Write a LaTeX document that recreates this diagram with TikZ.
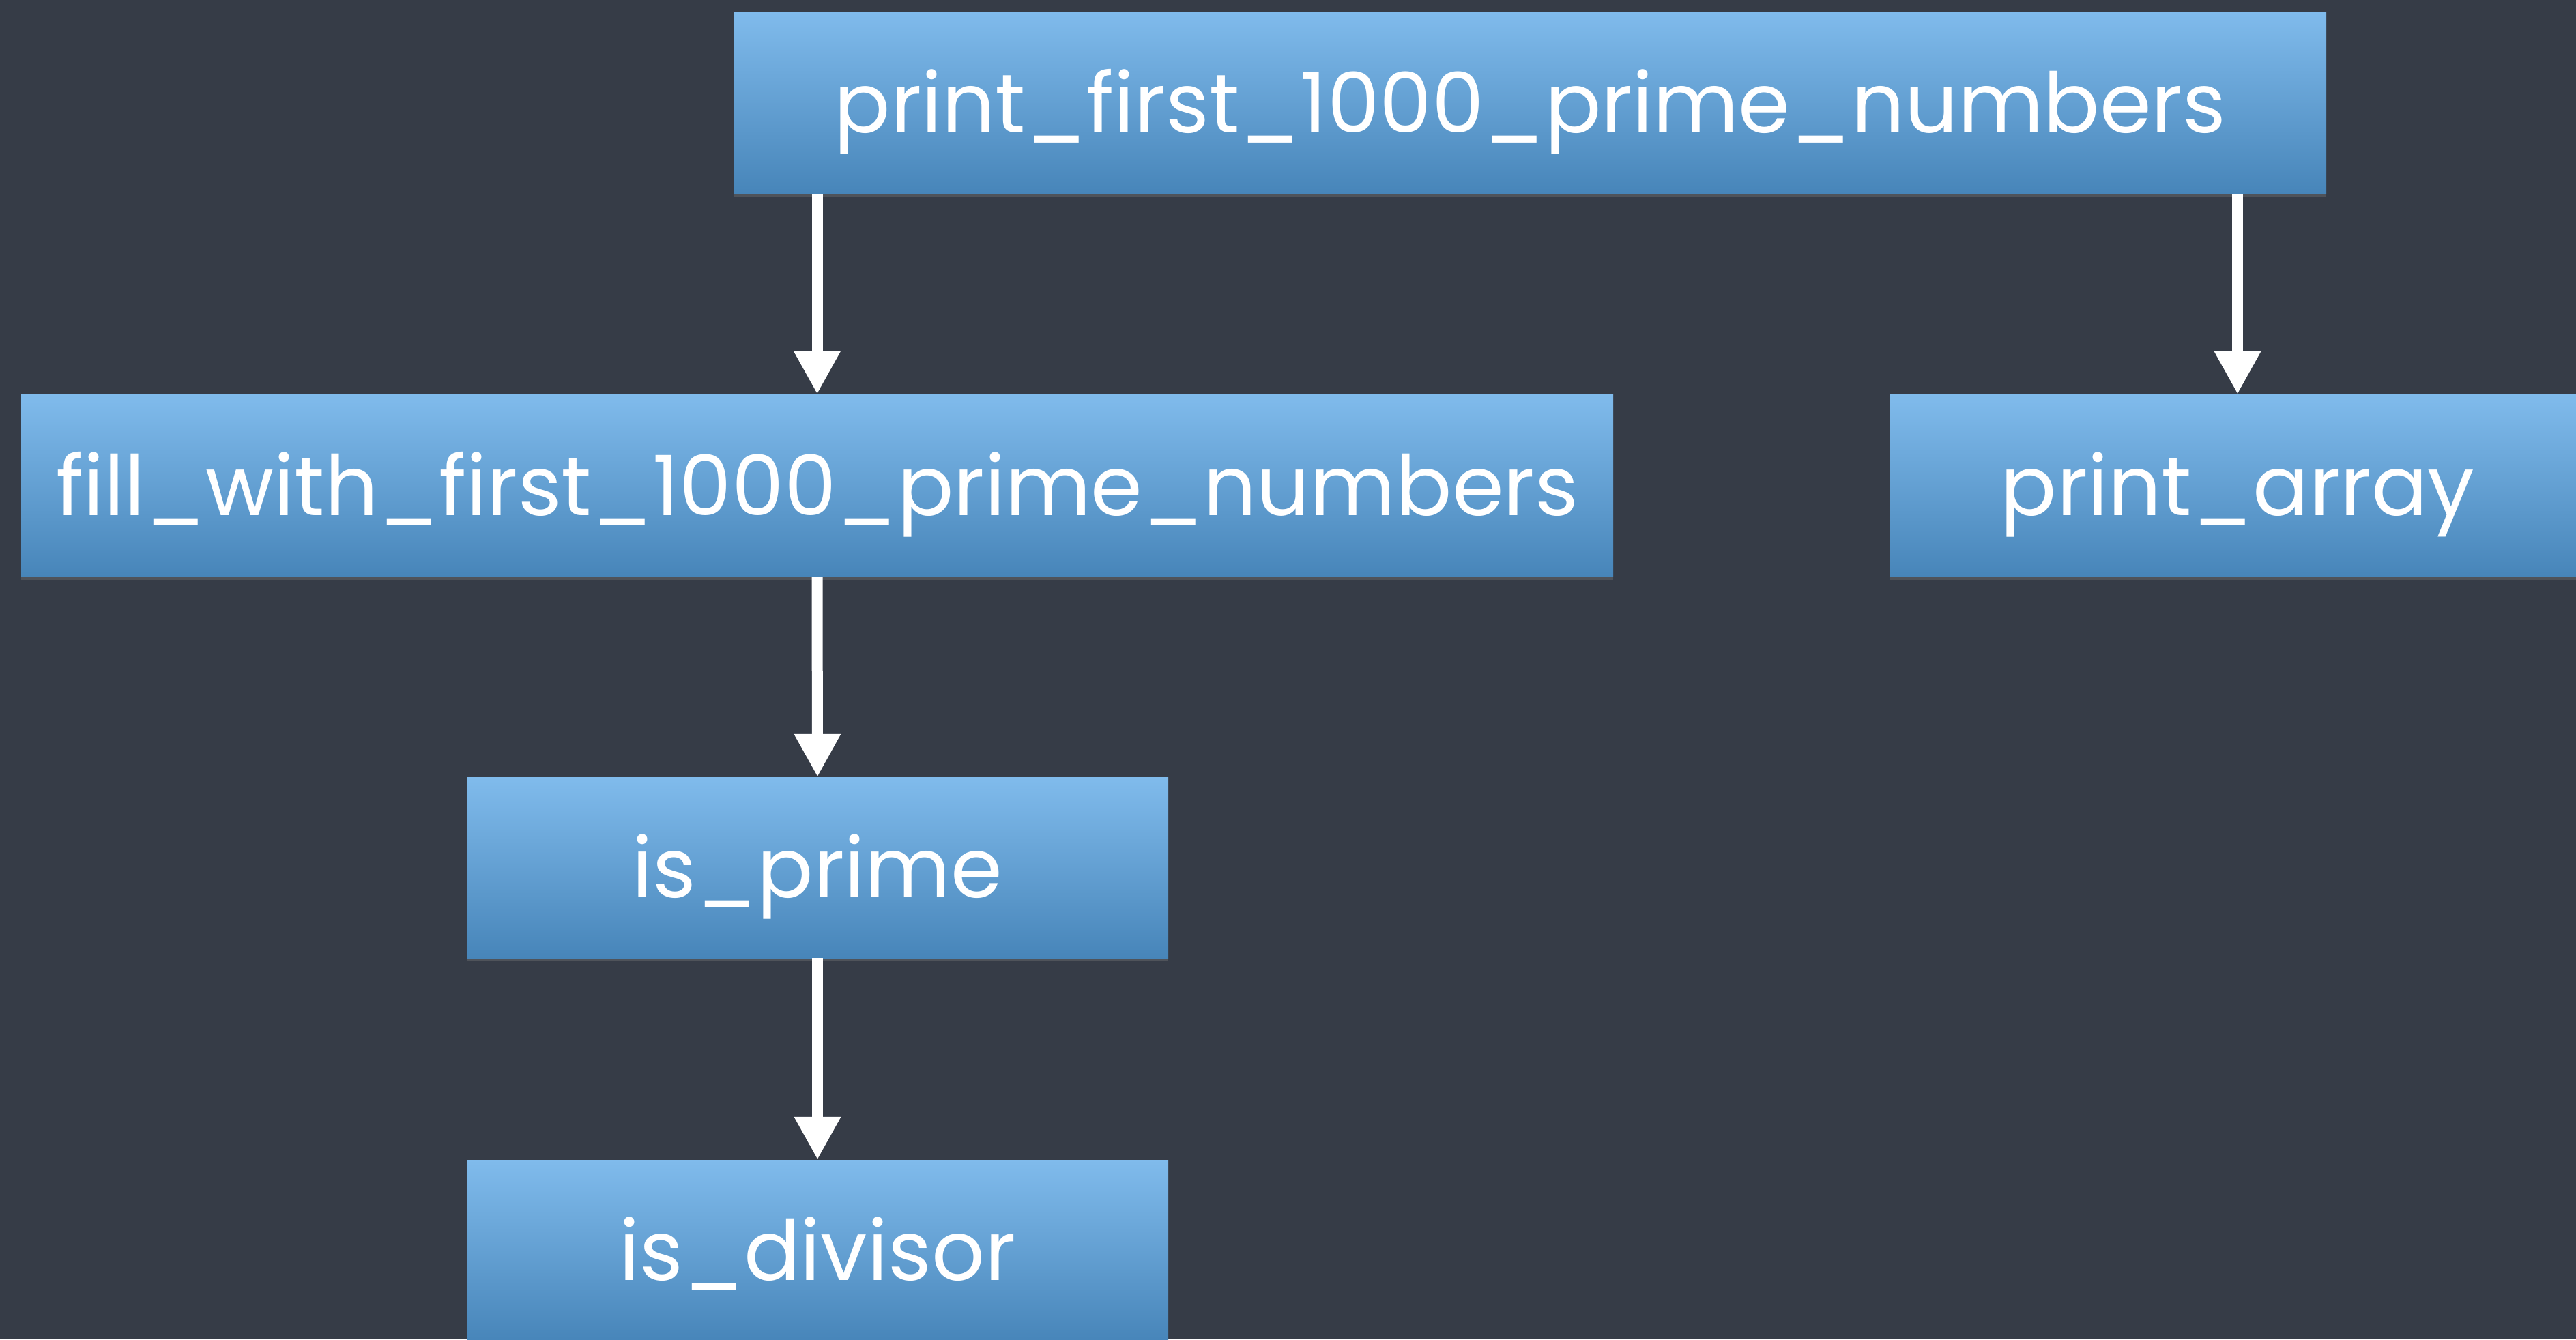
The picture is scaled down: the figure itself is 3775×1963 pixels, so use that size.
\documentclass[tikz,border=0pt]{standalone}
\usepackage{fontspec}
\setmainfont{Poppins}
\usetikzlibrary{arrows.meta,shadows}
\definecolor{bg}{HTML}{363C47}
\definecolor{boxtop}{HTML}{80BBEC}
\definecolor{boxbot}{HTML}{4785B9}
\begin{document}
\begin{tikzpicture}[x=1pt,y=-1pt,
  fnbox/.style={rectangle, inner sep=0pt, top color=boxtop, bottom color=boxbot,
    draw=none, text=white, font=\fontsize{122}{140}\selectfont,
    text height=87pt, text depth=0pt,
    drop shadow={opacity=0.35, shadow xshift=0pt, shadow yshift=-5pt}},
  call/.style={draw=white, line width=16pt,
    -{Triangle[width=64pt,length=63pt]}, shorten >=0pt}]
  \fill[bg] (0,0) rectangle (3775,1963);
  \useasboundingbox (0,0) rectangle (3775,1963);

  \node[fnbox, minimum width=2333pt, minimum height=267pt] (main) at (2242.5,150.5) {print\_first\_1000\_prime\_numbers};
  \node[fnbox, minimum width=2333pt, minimum height=267pt] (fill) at (1197.5,711.5) {fill\_with\_first\_1000\_prime\_numbers};
  \node[fnbox, minimum width=1020pt, minimum height=267pt] (parr) at (3279,711.5) {print\_array};
  \node[fnbox, minimum width=1028pt, minimum height=265pt] (isp) at (1198,1271.5) {is\_prime};
  \node[fnbox, minimum width=1028pt, minimum height=266pt] (isd) at (1198,1833) {is\_divisor};

  \draw[call] (main.south -| fill.north) -- (fill.north);
  \draw[call] (main.south -| parr.north) -- (parr.north);
  \draw[call] (fill.south) -- (isp.north);
  \draw[call] (isp.south) -- (isd.north);
\end{tikzpicture}
\end{document}
